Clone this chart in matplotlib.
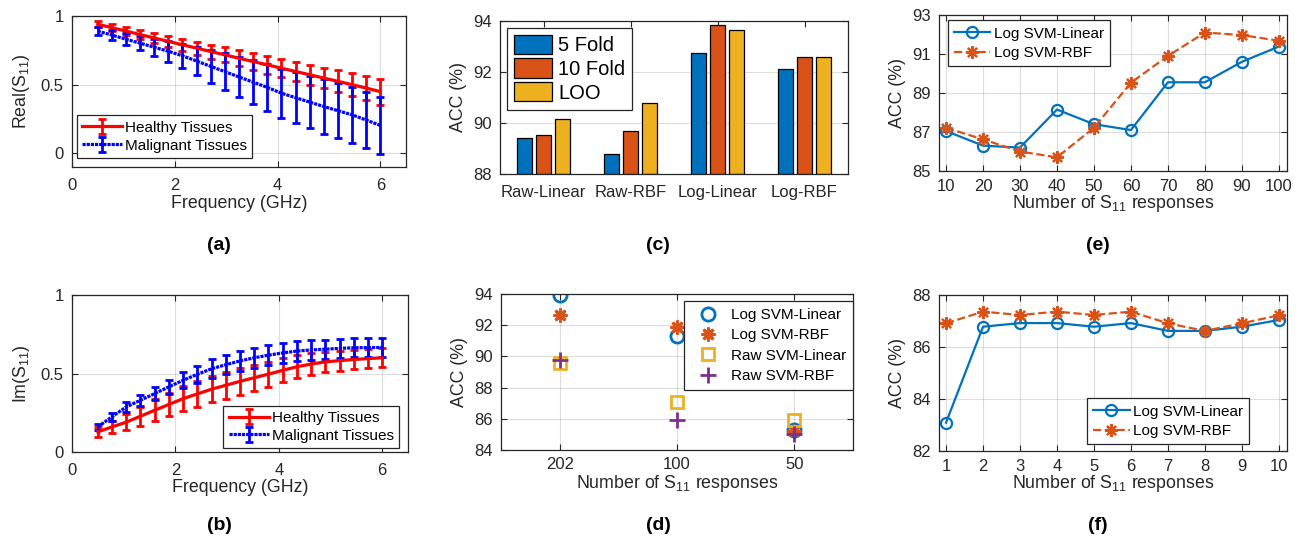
import numpy as np
import matplotlib
matplotlib.use('Agg')
import matplotlib.pyplot as plt

plt.rcParams['font.family'] = ['Liberation Sans', 'DejaVu Sans']
plt.rcParams['mathtext.default'] = 'regular'

# %% data
# (a), (b): S11 vs frequency, mean +- std
freq = [0.5, 0.775, 1.05, 1.325, 1.6, 1.875, 2.15, 2.425, 2.7, 2.975, 3.25,
        3.525, 3.8, 4.075, 4.35, 4.625, 4.9, 5.175, 5.45, 5.725, 6.0]
re_healthy = [0.940, 0.915, 0.890, 0.865, 0.840, 0.815, 0.790, 0.766, 0.741, 0.717, 0.692,
              0.668, 0.644, 0.620, 0.596, 0.572, 0.548, 0.524, 0.500, 0.475, 0.449]
re_healthy_std = [0.020, 0.024, 0.028, 0.032, 0.036, 0.040, 0.044, 0.048, 0.051, 0.054, 0.057,
                  0.060, 0.063, 0.066, 0.069, 0.072, 0.076, 0.080, 0.084, 0.089, 0.095]
re_malig = [0.890, 0.861, 0.831, 0.802, 0.772, 0.743, 0.710, 0.672, 0.633, 0.595, 0.556,
            0.518, 0.480, 0.438, 0.405, 0.373, 0.341, 0.310, 0.280, 0.242, 0.203]
re_malig_std = [0.030, 0.036, 0.043, 0.052, 0.063, 0.075, 0.088, 0.102, 0.118, 0.133, 0.147,
                0.160, 0.170, 0.178, 0.186, 0.192, 0.197, 0.201, 0.203, 0.205, 0.206]
im_healthy = [0.128, 0.160, 0.190, 0.228, 0.266, 0.303, 0.340, 0.370, 0.400, 0.425, 0.450,
              0.473, 0.496, 0.520, 0.543, 0.560, 0.574, 0.582, 0.589, 0.595, 0.600]
im_healthy_std = [0.030, 0.040, 0.050, 0.060, 0.070, 0.075, 0.080, 0.082, 0.084, 0.085, 0.085,
                  0.083, 0.080, 0.076, 0.072, 0.068, 0.065, 0.063, 0.062, 0.061, 0.061]
im_malig = [0.160, 0.225, 0.287, 0.330, 0.372, 0.415, 0.457, 0.495, 0.530, 0.556, 0.580,
            0.600, 0.617, 0.631, 0.643, 0.650, 0.655, 0.660, 0.664, 0.665, 0.666]
im_malig_std = [0.020, 0.025, 0.030, 0.035, 0.040, 0.045, 0.050, 0.055, 0.060, 0.062, 0.064,
                0.065, 0.064, 0.063, 0.062, 0.061, 0.060, 0.060, 0.059, 0.058, 0.058]

# (c): accuracy per model / validation scheme
models = ['Raw-Linear', 'Raw-RBF', 'Log-Linear', 'Log-RBF']
acc_5fold = [89.40, 88.77, 92.76, 92.13]
acc_10fold = [89.54, 89.68, 93.83, 92.59]
acc_loo = [90.15, 90.77, 93.66, 92.59]

# (d): accuracy vs number of responses
n_resp = ['202', '100', '50']
d_log_lin = [93.95, 91.30, 85.30]
d_log_rbf = [92.65, 91.90, 85.20]
d_raw_lin = [89.55, 87.10, 85.90]
d_raw_rbf = [89.75, 85.90, 85.00]

# (e)
e_n = [10, 20, 30, 40, 50, 60, 70, 80, 90, 100]
e_lin = [87.05, 86.30, 86.20, 88.15, 87.40, 87.10, 89.55, 89.55, 90.60, 91.38]
e_rbf = [87.22, 86.62, 86.00, 85.70, 87.22, 89.53, 90.90, 92.10, 91.97, 91.68]

# (f)
f_n = [1, 2, 3, 4, 5, 6, 7, 8, 9, 10]
f_lin = [83.09, 86.78, 86.92, 86.92, 86.78, 86.92, 86.62, 86.62, 86.78, 87.04]
f_rbf = [86.91, 87.36, 87.23, 87.36, 87.23, 87.36, 86.91, 86.62, 86.91, 87.22]

# %% style
W, H = 1306, 543
dark = '#262626'
c_blue, c_orange, c_yellow, c_purple = '#0072BD', '#D95319', '#EDB120', '#7E2F8E'
tick_fs = 12
lab_fs = 12.8
leg_fs = 11

fig = plt.figure(figsize=(W/100, H/100), dpi=100)

def add_ax(l, t, r, b):
    return fig.add_axes([l/W, 1 - b/H, (r - l)/W, (b - t)/H])

def matlab_style(ax, xgrid=True):
    for s in ax.spines.values():
        s.set_color(dark); s.set_linewidth(0.9)
    ax.tick_params(direction='in', length=4, width=0.8, colors=dark, labelsize=tick_fs,
                   top=True, right=True, pad=6)
    ax.tick_params(axis='x', pad=8)
    ax.grid(True, axis='both' if xgrid else 'y', color=dark, alpha=0.15, lw=0.8)
    ax.set_axisbelow(True)

def leg(ax, **kw):
    opts = dict(fancybox=False, framealpha=1, edgecolor=dark, fontsize=leg_fs,
                borderpad=0.35, labelspacing=0.25, handletextpad=0.2, borderaxespad=0)
    opts.update(kw)
    l = ax.legend(**opts)
    l.get_frame().set_linewidth(0.9)
    return l

def s11_panel(ax, yh, eh, ym, em, ylab, loc, anchor):
    ax.errorbar(freq, yh, yerr=eh, color='red', lw=2.3, elinewidth=2, capsize=3.2, capthick=2,
                label='Healthy Tissues')
    ax.errorbar(freq, ym, yerr=em, color='blue', lw=2.3, ls=(0, (1, 0.3)), elinewidth=2,
                capsize=3.2, capthick=2, label='Malignant Tissues')
    ax.set_xlim(0, 6.5)
    ax.set_xticks([0, 2, 4, 6])
    ax.set_yticks([0, 0.5, 1])
    ax.set_yticklabels(['0', '0.5', '1'])
    ax.set_xlabel('Frequency (GHz)', fontsize=lab_fs, color=dark, labelpad=1)
    ax.set_ylabel(ylab, fontsize=lab_fs, color=dark, labelpad=6)
    matlab_style(ax)
    leg(ax, loc=loc, bbox_to_anchor=anchor, handlelength=2.6)

# %% (a)
ax_a = add_ax(72, 16, 406, 167)
s11_panel(ax_a, re_healthy, re_healthy_std, re_malig, re_malig_std, 'Real(S$_{11}$)',
          'lower left', (0.015, 0.06))
ax_a.set_ylim(-0.1, 1)

# %% (b)
ax_b = add_ax(72, 295, 408, 452)
s11_panel(ax_b, im_healthy, im_healthy_std, im_malig, im_malig_std, 'Im(S$_{11}$)',
          'lower right', (0.973, 0.025))
ax_b.set_ylim(0, 1)

# %% (c) grouped bars
ax_c = add_ax(500, 21, 848, 174)
xc = np.arange(1, len(models) + 1)
bw = 0.175
step = 0.222
for k, (vals, col, lab) in enumerate([(acc_5fold, c_blue, '5 Fold'),
                                      (acc_10fold, c_orange, '10 Fold'),
                                      (acc_loo, c_yellow, 'LOO')]):
    ax_c.bar(xc + (k - 1) * step, np.array(vals) - 88, bottom=88, width=bw, color=col,
             edgecolor='black', lw=0.9, label=lab)
ax_c.set_xlim(0.5, 4.5)
ax_c.set_ylim(88, 94)
ax_c.set_xticks(xc)
ax_c.set_xticklabels(models)
ax_c.set_yticks([88, 90, 92, 94])
ax_c.set_ylabel('ACC (%)', fontsize=lab_fs, color=dark, labelpad=4)
matlab_style(ax_c, xgrid=False)
leg(ax_c, loc='upper left', bbox_to_anchor=(0.02, 0.955), fontsize=14.5,
    handlelength=1.9, handleheight=1.1, labelspacing=0.15, handletextpad=0.3)

# %% (d) scatter
ax_d = add_ax(501, 294, 853, 450)
xd = np.arange(1, len(n_resp) + 1)
ax_d.plot(xd, d_log_lin, 'o', ms=9.5, mfc='none', mec=c_blue, mew=2, label='Log SVM-Linear')
ax_d.plot(xd, d_log_rbf, marker=(8, 2, 0), ls='none', ms=10, mec=c_orange, mew=2,
          label='Log SVM-RBF')
ax_d.plot(xd, d_raw_lin, 's', ms=8.5, mfc='none', mec=c_yellow, mew=2, label='Raw SVM-Linear')
ax_d.plot(xd, d_raw_rbf, '+', ms=11, mec=c_purple, mew=2, label='Raw SVM-RBF')
ax_d.set_xlim(0.5, 3.5)
ax_d.set_ylim(84, 94)
ax_d.set_xticks(xd)
ax_d.set_xticklabels(n_resp)
ax_d.set_yticks([84, 86, 88, 90, 92, 94])
ax_d.set_xlabel('Number of S$_{11}$ responses', fontsize=lab_fs, color=dark, labelpad=1)
ax_d.set_ylabel('ACC (%)', fontsize=lab_fs, color=dark, labelpad=4)
matlab_style(ax_d)
ax_d.tick_params(axis='x', pad=5)
leg(ax_d, loc='upper right', bbox_to_anchor=(1.0, 0.955), handlelength=2.2,
    borderpad=0.45, labelspacing=0.42, handletextpad=0.4)

# %% (e), (f) lines
def line_panel(ax, xs, lin, rbf, ylim, yticks, loc, anchor):
    ax.plot(xs, lin, '-o', color=c_blue, lw=1.6, ms=8, mfc='none', mew=1.6, label='Log SVM-Linear')
    ax.plot(xs, rbf, '--', marker=(8, 2, 0), color=c_orange, lw=1.6, ms=9, mew=1.6,
            label='Log SVM-RBF')
    ax.set_xticks(xs)
    ax.set_ylim(*ylim)
    ax.set_yticks(yticks)
    ax.set_xlabel('Number of S$_{11}$ responses', fontsize=lab_fs, color=dark, labelpad=-1)
    ax.set_ylabel('ACC (%)', fontsize=lab_fs, color=dark, labelpad=4)
    matlab_style(ax)
    ax.tick_params(axis='x', pad=6)
    leg(ax, loc=loc, bbox_to_anchor=anchor, handlelength=2.4, borderpad=0.4, labelspacing=0.35)

ax_e = add_ax(939, 15, 1287, 171)
line_panel(ax_e, e_n, e_lin, e_rbf, (85, 93), [85, 87, 89, 91, 93], 'upper left', (0.025, 0.965))
ax_e.set_xlim(8.1, 102.2)

ax_f = add_ax(939, 295, 1287, 451)
line_panel(ax_f, f_n, f_lin, f_rbf, (82, 88), [82, 84, 86, 88], 'lower right', (0.891, 0.045))
ax_f.set_xlim(0.81, 10.22)

# panel letters
for lab, x, y in [('(a)', 219, 245), ('(b)', 219, 525), ('(c)', 658, 245),
                  ('(d)', 658, 525), ('(e)', 1098, 245), ('(f)', 1098, 525)]:
    fig.text(x/W, 1 - y/H, lab, ha='center', va='center', fontsize=14, fontweight='bold')

fig.savefig('out.png', dpi=100)
